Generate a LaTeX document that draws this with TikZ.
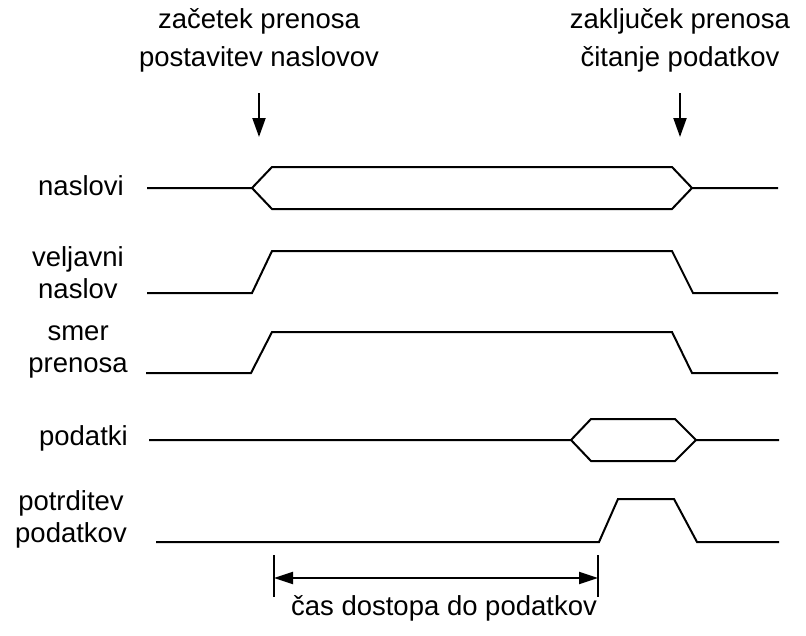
\documentclass[tikz,border=0pt]{standalone}
\usepackage{fontspec}
\setmainfont{Liberation Sans}
\usetikzlibrary{arrows.meta}
\begin{document}
\begin{tikzpicture}[x=1pt,y=-1pt,
  wave/.style={line width=2pt, line join=miter},
  txt/.style={inner sep=0pt, font=\fontsize{27.5}{32}\selectfont},
  sig/.style={txt, anchor=base east},
  caption/.style={txt, anchor=base},
  marker/.style={line width=2pt, -{Triangle[length=19pt,width=13pt]}},
  dimline/.style={line width=2pt, {Triangle[length=19pt,width=12pt]}-{Triangle[length=19pt,width=12pt]}},
  tickline/.style={line width=2pt},
]
\useasboundingbox (0,0) rectangle (806,635);

% event captions and markers
\node[caption] (startA) at (259,28) {začetek prenosa};
\node[caption] (startB) at (259,66) {postavitev naslovov};
\node[caption] (endA) at (680,28) {zaključek prenosa};
\node[caption] (endB) at (680,66) {čitanje podatkov};
\coordinate (m1a) at (259,93);
\coordinate (m1b) at (259,137);
\coordinate (m2a) at (680,93);
\coordinate (m2b) at (680,137);
\draw[marker] (m1a) -- (m1b);
\draw[marker] (m2a) -- (m2b);

% signal names
\node[sig] (lnaslovi) at (124,195) {naslovi};
\node[sig] (lveljavni) at (124,298) {\begin{tabular}[b]{@{}c@{}}veljavni\\naslov\end{tabular}};
\node[sig] (lsmer) at (128,372) {\begin{tabular}[b]{@{}c@{}}smer\\prenosa\end{tabular}};
\node[sig] (lpodatki) at (128,445) {podatki};
\node[sig] (lpotrditev) at (127,542) {\begin{tabular}[b]{@{}c@{}}potrditev\\podatkov\end{tabular}};

% address bus
\draw[wave] (147,188) -- (252,188) -- (272,167) -- (672,167) -- (692,188) -- (778,188);
\draw[wave] (252,188) -- (272,209) -- (672,209) -- (692,188);

% address valid
\draw[wave] (147,293) -- (252,293) -- (272,251) -- (672,251) -- (693,293) -- (778,293);

% transfer direction
\draw[wave] (146,373) -- (251,373) -- (272,332) -- (672,332) -- (692,373) -- (778,373);

% data bus
\draw[wave] (149,440) -- (571,440) -- (591,419) -- (675,419) -- (696,440) -- (779,440);
\draw[wave] (571,440) -- (591,461) -- (675,461) -- (696,440);

% data acknowledge
\draw[wave] (156,542) -- (599,542) -- (618,499) -- (674,499) -- (697,542) -- (779,542);

% access time
\coordinate (t1a) at (274,555);
\coordinate (t1b) at (274,597);
\coordinate (t2a) at (598,555);
\coordinate (t2b) at (598,597);
\coordinate (s1) at (274,578);
\coordinate (s2) at (598,578);
\draw[tickline] (t1a) -- (t1b);
\draw[tickline] (t2a) -- (t2b);
\draw[dimline] (s1) -- (s2);
\node[caption] (access) at (444,615) {čas dostopa do podatkov};
\end{tikzpicture}
\end{document}
